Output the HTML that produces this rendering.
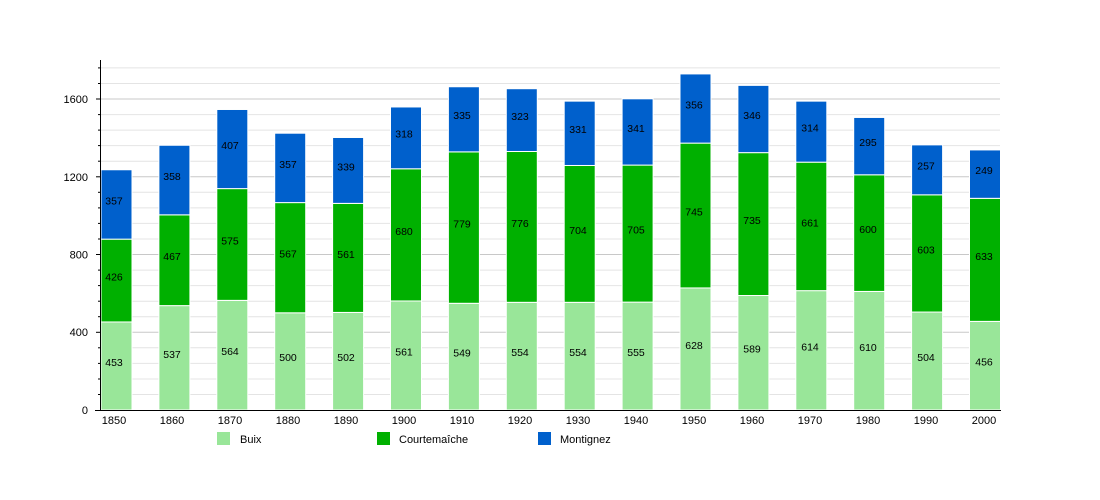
<!DOCTYPE html>
<html><head><meta charset="utf-8"><style>body{margin:0;background:#fff}svg{display:block}text{font-family:"Liberation Sans",sans-serif;font-size:11px;fill:#000}.v text{font-size:10.5px}</style></head><body>
<svg width="1100" height="500" xmlns="http://www.w3.org/2000/svg">
<g stroke="#e4e4e4" stroke-width="1">
<line x1="100" x2="1000" y1="394.5" y2="394.5"/><line x1="100" x2="1000" y1="379" y2="379"/><line x1="100" x2="1000" y1="363.4" y2="363.4"/><line x1="100" x2="1000" y1="347.8" y2="347.8"/>
<line x1="100" x2="1000" y1="316.7" y2="316.7"/><line x1="100" x2="1000" y1="301.2" y2="301.2"/><line x1="100" x2="1000" y1="285.6" y2="285.6"/><line x1="100" x2="1000" y1="270.1" y2="270.1"/>
<line x1="100" x2="1000" y1="239" y2="239"/><line x1="100" x2="1000" y1="223.4" y2="223.4"/><line x1="100" x2="1000" y1="207.9" y2="207.9"/><line x1="100" x2="1000" y1="192.3" y2="192.3"/>
<line x1="100" x2="1000" y1="161.2" y2="161.2"/><line x1="100" x2="1000" y1="145.6" y2="145.6"/><line x1="100" x2="1000" y1="130.1" y2="130.1"/><line x1="100" x2="1000" y1="114.6" y2="114.6"/>
<line x1="100" x2="1000" y1="83.5" y2="83.5"/><line x1="100" x2="1000" y1="67.9" y2="67.9"/>
</g>
<g stroke="#c8c8c8" stroke-width="1">
<line x1="100" x2="1000" y1="332.3" y2="332.3"/><line x1="100" x2="1000" y1="254.5" y2="254.5"/><line x1="100" x2="1000" y1="176.8" y2="176.8"/><line x1="100" x2="1000" y1="99" y2="99"/>
</g>
<g stroke="#fff" stroke-width="1">
<rect x="101" y="321.95" width="31" height="88.05" fill="#99e699"/><rect x="101" y="239.15" width="31" height="82.8" fill="#00b000"/><rect x="101" y="169.76" width="31" height="69.39" fill="#0060cc"/>
<rect x="158.9" y="305.62" width="31" height="104.38" fill="#99e699"/><rect x="158.9" y="214.85" width="31" height="90.77" fill="#00b000"/><rect x="158.9" y="145.26" width="31" height="69.59" fill="#0060cc"/>
<rect x="216.8" y="300.37" width="31" height="109.63" fill="#99e699"/><rect x="216.8" y="188.6" width="31" height="111.77" fill="#00b000"/><rect x="216.8" y="109.49" width="31" height="79.11" fill="#0060cc"/>
<rect x="274.7" y="312.81" width="31" height="97.19" fill="#99e699"/><rect x="274.7" y="202.6" width="31" height="110.21" fill="#00b000"/><rect x="274.7" y="133.21" width="31" height="69.39" fill="#0060cc"/>
<rect x="332.6" y="312.42" width="31" height="97.58" fill="#99e699"/><rect x="332.6" y="203.38" width="31" height="109.04" fill="#00b000"/><rect x="332.6" y="137.49" width="31" height="65.89" fill="#0060cc"/>
<rect x="390.5" y="300.96" width="31" height="109.04" fill="#99e699"/><rect x="390.5" y="168.78" width="31" height="132.18" fill="#00b000"/><rect x="390.5" y="106.97" width="31" height="61.81" fill="#0060cc"/>
<rect x="448.4" y="303.29" width="31" height="106.71" fill="#99e699"/><rect x="448.4" y="151.87" width="31" height="151.42" fill="#00b000"/><rect x="448.4" y="86.75" width="31" height="65.12" fill="#0060cc"/>
<rect x="506.3" y="302.32" width="31" height="107.68" fill="#99e699"/><rect x="506.3" y="151.49" width="31" height="150.83" fill="#00b000"/><rect x="506.3" y="88.71" width="31" height="62.78" fill="#0060cc"/>
<rect x="564.2" y="302.32" width="31" height="107.68" fill="#99e699"/><rect x="564.2" y="165.48" width="31" height="136.84" fill="#00b000"/><rect x="564.2" y="101.14" width="31" height="64.34" fill="#0060cc"/>
<rect x="622.1" y="302.12" width="31" height="107.88" fill="#99e699"/><rect x="622.1" y="165.09" width="31" height="137.03" fill="#00b000"/><rect x="622.1" y="98.81" width="31" height="66.28" fill="#0060cc"/>
<rect x="680" y="287.93" width="31" height="122.07" fill="#99e699"/><rect x="680" y="143.12" width="31" height="144.81" fill="#00b000"/><rect x="680" y="73.92" width="31" height="69.2" fill="#0060cc"/>
<rect x="737.9" y="295.51" width="31" height="114.49" fill="#99e699"/><rect x="737.9" y="152.64" width="31" height="142.87" fill="#00b000"/><rect x="737.9" y="85.39" width="31" height="67.25" fill="#0060cc"/>
<rect x="795.8" y="290.65" width="31" height="119.35" fill="#99e699"/><rect x="795.8" y="162.17" width="31" height="128.48" fill="#00b000"/><rect x="795.8" y="101.14" width="31" height="61.03" fill="#0060cc"/>
<rect x="853.7" y="291.43" width="31" height="118.57" fill="#99e699"/><rect x="853.7" y="174.8" width="31" height="116.63" fill="#00b000"/><rect x="853.7" y="117.46" width="31" height="57.34" fill="#0060cc"/>
<rect x="911.6" y="312.04" width="31" height="97.96" fill="#99e699"/><rect x="911.6" y="194.83" width="31" height="117.21" fill="#00b000"/><rect x="911.6" y="144.88" width="31" height="49.95" fill="#0060cc"/>
<rect x="969.5" y="321.37" width="31" height="88.63" fill="#99e699"/><rect x="969.5" y="198.33" width="31" height="123.04" fill="#00b000"/><rect x="969.5" y="149.93" width="31" height="48.4" fill="#0060cc"/>
</g>
<g text-anchor="middle" class="v" transform="translate(0,-4)">
<text x="114" y="370">453</text><text x="114" y="284.5">426</text><text x="114" y="208.5">357</text>
<text x="172" y="362">537</text><text x="172" y="264">467</text><text x="172" y="184">358</text>
<text x="230" y="359">564</text><text x="230" y="248.5">575</text><text x="230" y="153">407</text>
<text x="288" y="365">500</text><text x="288" y="261.5">567</text><text x="288" y="172">357</text>
<text x="346" y="365">502</text><text x="346" y="262">561</text><text x="346" y="174.5">339</text>
<text x="404" y="359.5">561</text><text x="404" y="239">680</text><text x="404" y="141.5">318</text>
<text x="462" y="360.5">549</text><text x="462" y="231.5">779</text><text x="462" y="123">335</text>
<text x="520" y="360">554</text><text x="520" y="231">776</text><text x="520" y="124">323</text>
<text x="578" y="360">554</text><text x="578" y="238">704</text><text x="578" y="137">331</text>
<text x="636" y="360">555</text><text x="636" y="237.5">705</text><text x="636" y="136">341</text>
<text x="694" y="353">628</text><text x="694" y="219.5">745</text><text x="694" y="112.5">356</text>
<text x="752" y="356.5">589</text><text x="752" y="228">735</text><text x="752" y="123">346</text>
<text x="810" y="354.5">614</text><text x="810" y="230.5">661</text><text x="810" y="135.5">314</text>
<text x="868" y="355">610</text><text x="868" y="237">600</text><text x="868" y="150">295</text>
<text x="926" y="365">504</text><text x="926" y="257.5">603</text><text x="926" y="173.5">257</text>
<text x="984" y="369.5">456</text><text x="984" y="264">633</text><text x="984" y="178">249</text>
</g>
<g stroke="#000" stroke-width="1">
<line x1="100.5" y1="60" x2="100.5" y2="410"/><line x1="95" y1="410.5" x2="1001" y2="410.5"/>
<line x1="96" x2="100" y1="99" y2="99"/><line x1="96" x2="100" y1="176.8" y2="176.8"/><line x1="96" x2="100" y1="254.5" y2="254.5"/><line x1="96" x2="100" y1="332.3" y2="332.3"/>
<line x1="98" x2="100" y1="67.9" y2="67.9"/><line x1="98" x2="100" y1="83.5" y2="83.5"/><line x1="98" x2="100" y1="114.6" y2="114.6"/><line x1="98" x2="100" y1="130.1" y2="130.1"/><line x1="98" x2="100" y1="145.6" y2="145.6"/><line x1="98" x2="100" y1="161.2" y2="161.2"/><line x1="98" x2="100" y1="192.3" y2="192.3"/><line x1="98" x2="100" y1="207.9" y2="207.9"/><line x1="98" x2="100" y1="223.4" y2="223.4"/><line x1="98" x2="100" y1="239" y2="239"/><line x1="98" x2="100" y1="270.1" y2="270.1"/><line x1="98" x2="100" y1="285.6" y2="285.6"/><line x1="98" x2="100" y1="301.2" y2="301.2"/><line x1="98" x2="100" y1="316.7" y2="316.7"/><line x1="98" x2="100" y1="347.8" y2="347.8"/><line x1="98" x2="100" y1="363.4" y2="363.4"/><line x1="98" x2="100" y1="379" y2="379"/><line x1="98" x2="100" y1="394.5" y2="394.5"/>
</g>
<g text-anchor="end">
<text x="88" y="103">1600</text><text x="88" y="181">1200</text><text x="88" y="258.5">800</text><text x="88" y="336">400</text><text x="88" y="414">0</text>
</g>
<g text-anchor="middle">
<text x="114" y="424">1850</text><text x="172" y="424">1860</text><text x="230" y="424">1870</text><text x="288" y="424">1880</text><text x="346" y="424">1890</text><text x="404" y="424">1900</text><text x="462" y="424">1910</text><text x="520" y="424">1920</text><text x="578" y="424">1930</text><text x="636" y="424">1940</text><text x="694" y="424">1950</text><text x="752" y="424">1960</text><text x="810" y="424">1970</text><text x="868" y="424">1980</text><text x="926" y="424">1990</text><text x="984" y="424">2000</text>
</g>
<rect x="217" y="432" width="13" height="13" fill="#99e699"/><text x="240" y="443">Buix</text>
<rect x="377" y="432" width="13" height="13" fill="#00b000"/><text x="399" y="443">Courtemaîche</text>
<rect x="538" y="432" width="13" height="13" fill="#0060cc"/><text x="560" y="443">Montignez</text>
</svg>
</body></html>
